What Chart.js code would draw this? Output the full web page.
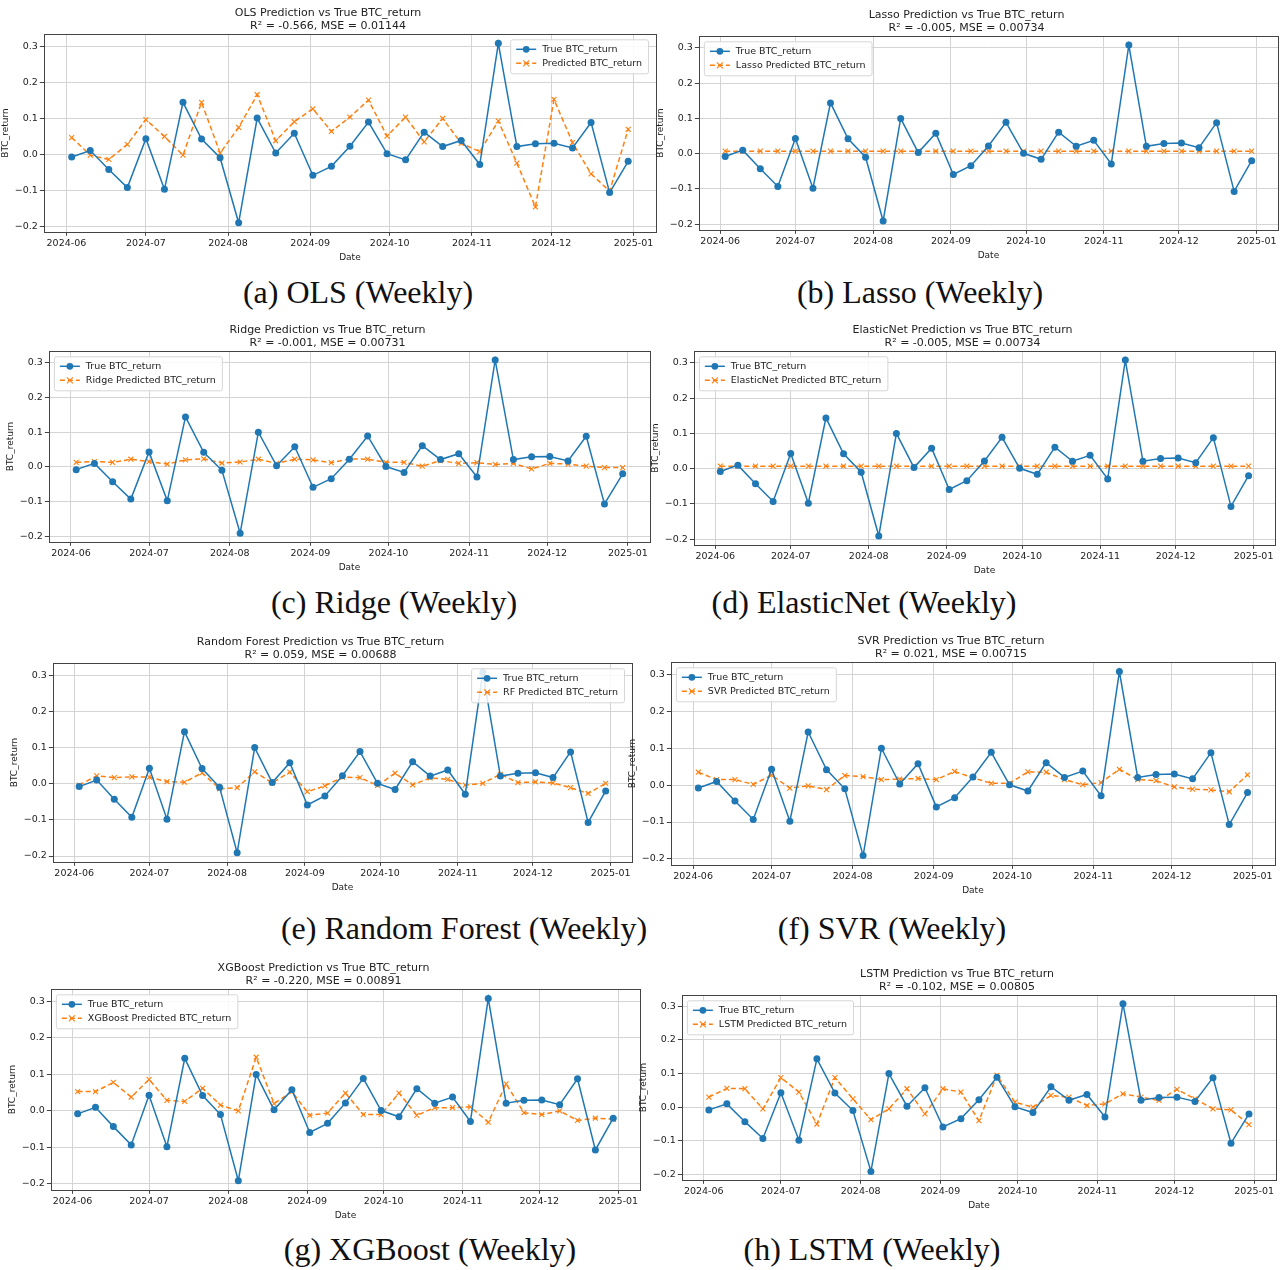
<!DOCTYPE html>
<html>
<head>
<meta charset="utf-8">
<script src="https://cdn.jsdelivr.net/npm/chart.js@4.4.1/dist/chart.umd.min.js"></script>
<style>
  html, body { margin: 0; padding: 0; background: #fff; }
  #page { position: relative; width: 1284px; height: 1270px; overflow: hidden; }
  .panel { position: absolute; }
  .cap { position: absolute; width: 460px; text-align: center; font-family: "Liberation Serif", "Times New Roman", serif; font-size: 32px; color: #111; }
</style>
</head>
<body>
<div id="page"></div>
<script>
// weekly dates (true + predicted share the same x)
const weekDates = ['2024-06-03','2024-06-10','2024-06-17','2024-06-24','2024-07-01','2024-07-08','2024-07-15','2024-07-22','2024-07-29','2024-08-05','2024-08-12','2024-08-19','2024-08-26','2024-09-02','2024-09-09','2024-09-16','2024-09-23','2024-09-30','2024-10-07','2024-10-14','2024-10-21','2024-10-28','2024-11-04','2024-11-11','2024-11-18','2024-11-25','2024-12-02','2024-12-09','2024-12-16','2024-12-23','2024-12-30'];
const monthTicks = ['2024-06-01','2024-07-01','2024-08-01','2024-09-01','2024-10-01','2024-11-01','2024-12-01','2025-01-01'];
const monthLabels = ['2024-06','2024-07','2024-08','2024-09','2024-10','2024-11','2024-12','2025-01'];
const yTicks = [-0.2, -0.1, 0.0, 0.1, 0.2, 0.3];

const trueReturn = [-0.008,0.010,-0.043,-0.093,0.043,-0.098,0.144,0.042,-0.010,-0.191,0.100,0.003,0.058,-0.059,-0.034,0.022,0.089,0.001,-0.016,0.061,0.021,0.038,-0.029,0.308,0.021,0.029,0.030,0.017,0.088,-0.107,-0.020];

const olsPred = [0.046,-0.003,-0.015,0.027,0.096,0.049,-0.003,0.144,0.003,0.074,0.165,0.037,0.090,0.126,0.063,0.103,0.150,0.050,0.103,0.034,0.099,0.030,0.007,0.092,-0.025,-0.147,0.152,0.032,-0.055,-0.103,0.069];
const lassoPred = [0.007,0.007,0.007,0.007,0.007,0.007,0.007,0.007,0.007,0.007,0.007,0.007,0.007,0.007,0.007,0.007,0.007,0.007,0.007,0.007,0.007,0.007,0.007,0.007,0.007,0.007,0.007,0.007,0.007,0.007,0.007];
const ridgePred = [0.013,0.015,0.013,0.022,0.015,0.008,0.020,0.023,0.011,0.014,0.022,0.010,0.022,0.020,0.012,0.023,0.022,0.013,0.013,0.002,0.018,0.010,0.012,0.007,0.010,-0.006,0.010,0.008,0.002,-0.002,-0.002];
const enetPred = [0.007,0.007,0.007,0.007,0.007,0.007,0.007,0.007,0.007,0.007,0.007,0.007,0.007,0.007,0.007,0.007,0.007,0.007,0.007,0.007,0.007,0.007,0.007,0.007,0.007,0.007,0.007,0.007,0.007,0.007,0.007];
const rfPred = [-0.004,0.022,0.017,0.019,0.018,0.006,0.004,0.030,-0.014,-0.011,0.033,0.002,0.032,-0.022,-0.006,0.018,0.017,-0.005,0.029,-0.003,0.016,0.012,-0.004,0.001,0.026,0.003,0.005,0.002,-0.011,-0.027,0.001];
const svrPred = [0.035,0.015,0.015,0.002,0.027,-0.008,-0.002,-0.012,0.026,0.023,0.015,0.016,0.018,0.015,0.037,0.020,0.005,0.005,0.036,0.035,0.015,0.001,0.007,0.043,0.015,0.012,-0.005,-0.011,-0.013,-0.018,0.028];
const xgbPred = [0.053,0.053,0.078,0.038,0.086,0.029,0.026,0.062,0.016,0.000,0.147,0.020,0.053,-0.012,-0.006,0.049,-0.010,-0.010,0.049,-0.012,0.009,0.009,0.011,-0.031,0.074,-0.005,-0.010,0.000,-0.026,-0.020,-0.023];
const lstmPred = [0.030,0.056,0.055,-0.005,0.088,0.045,-0.050,0.088,0.025,-0.037,-0.005,0.055,-0.020,0.055,0.045,-0.040,0.095,0.015,0.000,0.035,0.030,0.005,0.010,0.040,0.030,0.020,0.053,0.025,-0.005,-0.008,-0.052];

// panel layout: canvas box, legend side, caption
const panels = [
  { title: 'OLS Prediction vs True BTC_return', stats: 'R² = -0.566, MSE = 0.01144', predLabel: 'Predicted BTC_return', pred: olsPred, legend: 'right',
    box: [0, 1, 662, 262], caption: '(a) OLS (Weekly)', cap: [358, 274] },
  { title: 'Lasso Prediction vs True BTC_return', stats: 'R² = -0.005, MSE = 0.00734', predLabel: 'Lasso Predicted BTC_return', pred: lassoPred, legend: 'left',
    box: [655, 3, 629, 258], caption: '(b) Lasso (Weekly)', cap: [920, 274] },
  { title: 'Ridge Prediction vs True BTC_return', stats: 'R² = -0.001, MSE = 0.00731', predLabel: 'Ridge Predicted BTC_return', pred: ridgePred, legend: 'left',
    box: [5, 318, 651, 255], caption: '(c) Ridge (Weekly)', cap: [394, 584] },
  { title: 'ElasticNet Prediction vs True BTC_return', stats: 'R² = -0.005, MSE = 0.00734', predLabel: 'ElasticNet Predicted BTC_return', pred: enetPred, legend: 'left',
    box: [650, 318, 631, 258], caption: '(d) ElasticNet (Weekly)', cap: [864, 584] },
  { title: 'Random Forest Prediction vs True BTC_return', stats: 'R² = 0.059, MSE = 0.00688', predLabel: 'RF Predicted BTC_return', pred: rfPred, legend: 'right',
    box: [9, 630, 629, 263], caption: '(e) Random Forest (Weekly)', cap: [464, 910] },
  { title: 'SVR Prediction vs True BTC_return', stats: 'R² = 0.021, MSE = 0.00715', predLabel: 'SVR Predicted BTC_return', pred: svrPred, legend: 'left',
    box: [627, 629, 654, 267], caption: '(f) SVR (Weekly)', cap: [892, 910] },
  { title: 'XGBoost Prediction vs True BTC_return', stats: 'R² = -0.220, MSE = 0.00891', predLabel: 'XGBoost Predicted BTC_return', pred: xgbPred, legend: 'left',
    box: [7, 956, 639, 265], caption: '(g) XGBoost (Weekly)', cap: [430, 1231] },
  { title: 'LSTM Prediction vs True BTC_return', stats: 'R² = -0.102, MSE = 0.00805', predLabel: 'LSTM Predicted BTC_return', pred: lstmPred, legend: 'left',
    box: [638, 962, 644, 249], caption: '(h) LSTM (Weekly)', cap: [872, 1231] }
];

const DAY = 86400000;
const toDay = s => Date.parse(s) / DAY;
const xs = weekDates.map(toDay);
const xPad = (xs[xs.length - 1] - xs[0]) * 0.05;
const BLUE = '#1f77b4', ORANGE = '#ff7f0e';
const FONT = '"DejaVu Sans", sans-serif';

function drawMarker(ctx, style, x, y, color) {
  ctx.save();
  if (style === 'circle') {
    ctx.fillStyle = color;
    ctx.beginPath();
    ctx.arc(x, y, 3.4, 0, Math.PI * 2);
    ctx.fill();
  } else {
    ctx.strokeStyle = color;
    ctx.lineWidth = 1.1;
    ctx.setLineDash([]);
    ctx.beginPath();
    ctx.moveTo(x - 3, y - 3); ctx.lineTo(x + 3, y + 3);
    ctx.moveTo(x - 3, y + 3); ctx.lineTo(x + 3, y - 3);
    ctx.stroke();
  }
  ctx.restore();
}

// axes frame like matplotlib spines
const framePlugin = {
  id: 'frame',
  afterDraw(chart) {
    const a = chart.chartArea, ctx = chart.ctx;
    ctx.save();
    ctx.strokeStyle = '#444';
    ctx.lineWidth = 1;
    ctx.strokeRect(Math.round(a.left) + 0.5, Math.round(a.top) + 0.5, Math.round(a.right - a.left), Math.round(a.bottom - a.top));
    ctx.restore();
  }
};

// legend drawn inside the plot area
const insideLegend = {
  id: 'insideLegend',
  afterDatasetsDraw(chart, args, opts) {
    const ctx = chart.ctx, a = chart.chartArea;
    const sets = chart.data.datasets;
    ctx.save();
    ctx.font = '9.5px ' + FONT;
    const textW = Math.max(...sets.map(d => ctx.measureText(d.label).width));
    const w = textW + 38, rowH = 14, h = sets.length * rowH + 6;
    const x = opts.side === 'right' ? a.right - w - 8 : a.left + 5;
    const y = a.top + 5;
    ctx.fillStyle = 'rgba(255,255,255,0.85)';
    ctx.strokeStyle = '#d6d6d6';
    ctx.lineWidth = 1;
    ctx.beginPath();
    ctx.roundRect(x + 0.5, y + 0.5, w, h, 2);
    ctx.fill();
    ctx.stroke();
    sets.forEach((d, i) => {
      const cy = y + 3 + rowH * i + rowH / 2;
      ctx.strokeStyle = d.borderColor;
      ctx.lineWidth = 1.5;
      ctx.setLineDash(d.borderDash || []);
      ctx.beginPath();
      ctx.moveTo(x + 6, cy); ctx.lineTo(x + 26, cy);
      ctx.stroke();
      ctx.setLineDash([]);
      drawMarker(ctx, d.pointStyle, x + 16, cy, d.borderColor);
      ctx.fillStyle = '#222';
      ctx.textBaseline = 'middle';
      ctx.fillText(d.label, x + 32, cy + 0.5);
    });
    ctx.restore();
  }
};

const page = document.getElementById('page');

panels.forEach(p => {
  const [left, top, width, height] = p.box;
  const div = document.createElement('div');
  div.className = 'panel';
  div.style.left = left + 'px';
  div.style.top = top + 'px';
  const canvas = document.createElement('canvas');
  canvas.width = width;
  canvas.height = height;
  canvas.style.width = width + 'px';
  canvas.style.height = height + 'px';
  div.appendChild(canvas);
  page.appendChild(div);

  const cap = document.createElement('div');
  cap.className = 'cap';
  cap.textContent = p.caption;
  cap.style.left = (p.cap[0] - 230) + 'px';
  cap.style.top = p.cap[1] + 'px';
  page.appendChild(cap);

  new Chart(canvas, {
    type: 'line',
    data: {
      datasets: [{
        label: 'True BTC_return',
        data: trueReturn.map((v, i) => ({ x: xs[i], y: v })),
        borderColor: BLUE,
        backgroundColor: BLUE,
        borderWidth: 1.5,
        pointStyle: 'circle',
        pointRadius: 3.5,
        pointBorderWidth: 0,
        tension: 0
      }, {
        label: p.predLabel,
        data: p.pred.map((v, i) => ({ x: xs[i], y: v })),
        borderColor: ORANGE,
        backgroundColor: ORANGE,
        borderWidth: 1.5,
        borderDash: [5, 3],
        pointStyle: 'crossRot',
        pointRadius: 3.5,
        pointBorderWidth: 1.1,
        tension: 0
      }]
    },
    options: {
      responsive: false,
      animation: false,
      layout: { padding: { top: 0, right: 6, bottom: 0, left: 0 } },
      plugins: {
        legend: { display: false },
        tooltip: { enabled: false },
        insideLegend: { side: p.legend },
        title: {
          display: true,
          text: [p.title, p.stats],
          color: '#222',
          font: { family: FONT, size: 11, weight: 'normal', lineHeight: 1.15 },
          padding: { top: 6, bottom: 2 }
        }
      },
      scales: {
        x: {
          type: 'linear',
          min: xs[0] - xPad,
          max: xs[xs.length - 1] + xPad,
          afterBuildTicks: scale => { scale.ticks = monthTicks.map(d => ({ value: toDay(d) })); },
          ticks: {
            autoSkip: false, maxRotation: 0, color: '#222', padding: 2,
            font: { family: FONT, size: 9.5 },
            callback: (v, i) => monthLabels[i]
          },
          grid: { color: '#d4d4d4', tickColor: '#444', tickLength: 4 },
          border: { display: false },
          title: { display: true, text: 'Date', color: '#222', font: { family: FONT, size: 9 }, padding: { top: 1, bottom: 0 } }
        },
        y: {
          min: -0.216,
          max: 0.333,
          afterBuildTicks: scale => { scale.ticks = yTicks.map(v => ({ value: v })); },
          ticks: {
            color: '#222', padding: 2,
            font: { family: FONT, size: 9.5 },
            callback: v => v.toFixed(1).replace('-', '\u2212')
          },
          grid: { color: '#d4d4d4', tickColor: '#444', tickLength: 4 },
          border: { display: false },
          title: { display: true, text: 'BTC_return', color: '#222', font: { family: FONT, size: 9 }, padding: { top: 0, bottom: 2 } }
        }
      }
    },
    plugins: [framePlugin, insideLegend]
  });
});
</script>
</body>
</html>
